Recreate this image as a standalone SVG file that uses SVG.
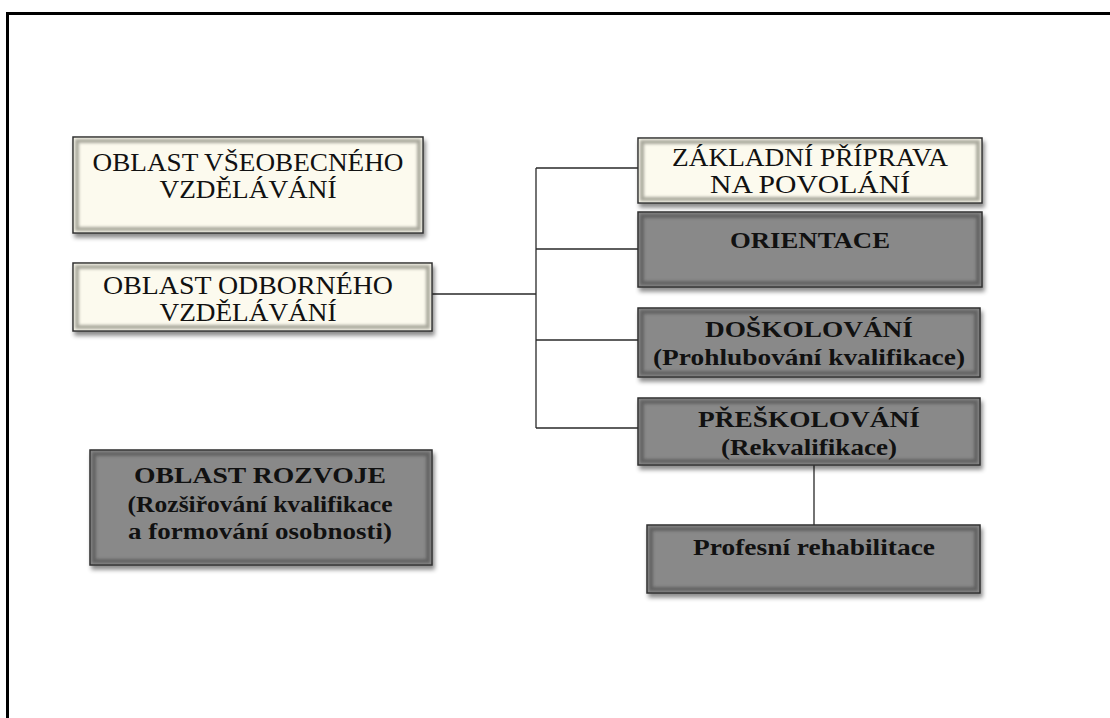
<svg xmlns="http://www.w3.org/2000/svg" width="1110" height="718" viewBox="0 0 1110 718">
<defs>
<filter id="sh" x="-10%" y="-20%" width="125%" height="150%">
<feDropShadow dx="2" dy="4" stdDeviation="2.2" flood-color="#000" flood-opacity="0.45"/>
</filter>
<filter id="bl" x="-5%" y="-10%" width="110%" height="120%">
<feGaussianBlur stdDeviation="1.6"/>
</filter>
<style>
.cream{fill:#fcfaee;stroke:#2e2e2e;stroke-width:1.5}
.gray{fill:#898989;stroke:#2e2e2e;stroke-width:1.5}
.rimc{fill:none;stroke:#a9a89c;stroke-width:4}
.rimg{fill:none;stroke:#626262;stroke-width:4}
.reg{font-family:"Liberation Serif","Times New Roman",serif;font-size:25px;fill:#111}
.bold{font-family:"Liberation Serif","Times New Roman",serif;font-size:23px;font-weight:bold;fill:#111}
.ln{stroke:#2a2a2a;stroke-width:1.3;fill:none}
</style>
</defs>
<rect x="0" y="0" width="1110" height="718" fill="#fff"/>
<rect x="7.5" y="13.5" width="1120" height="720" fill="none" stroke="#000" stroke-width="3"/>

<g id="connectors">
<path class="ln" d="M432 294 H536 M536 168 V428 M536 168 H638 M536 249 H638 M536 340 H638 M536 428 H638 M814 465 V525"/>
</g>

<g id="n-vseobecne">
<rect class="cream" x="73" y="137" width="350" height="96" filter="url(#sh)"/>
<rect class="rimc" x="77" y="141" width="342" height="88" filter="url(#bl)"/>
<text class="reg" text-anchor="middle"><tspan x="248" y="171" textLength="311" lengthAdjust="spacingAndGlyphs">OBLAST VŠEOBECNÉHO</tspan><tspan x="248" y="198" textLength="177" lengthAdjust="spacingAndGlyphs">VZDĚLÁVÁNÍ</tspan></text>
</g>

<g id="n-odborne">
<rect class="cream" x="73" y="263" width="359" height="68" filter="url(#sh)"/>
<rect class="rimc" x="77" y="267" width="351" height="60" filter="url(#bl)"/>
<text class="reg" text-anchor="middle"><tspan x="248" y="294" textLength="290" lengthAdjust="spacingAndGlyphs">OBLAST ODBORNÉHO</tspan><tspan x="248" y="321" textLength="177" lengthAdjust="spacingAndGlyphs">VZDĚLÁVÁNÍ</tspan></text>
</g>

<g id="n-rozvoj">
<rect class="gray" x="90" y="450" width="342" height="115" filter="url(#sh)"/>
<rect class="rimg" x="94" y="454" width="334" height="107" filter="url(#bl)"/>
<text class="bold" text-anchor="middle"><tspan x="260" y="483" textLength="252" lengthAdjust="spacingAndGlyphs">OBLAST ROZVOJE</tspan><tspan x="260" y="512" textLength="265" lengthAdjust="spacingAndGlyphs">(Rozšiřování kvalifikace</tspan><tspan x="260" y="539" textLength="264" lengthAdjust="spacingAndGlyphs">a formování osobnosti)</tspan></text>
</g>

<g id="n-zakladni">
<rect class="cream" x="638" y="138" width="344" height="65" filter="url(#sh)"/>
<rect class="rimc" x="642" y="142" width="336" height="57" filter="url(#bl)"/>
<text class="reg" text-anchor="middle"><tspan x="810" y="166" textLength="276" lengthAdjust="spacingAndGlyphs">ZÁKLADNÍ PŘÍPRAVA</tspan><tspan x="810" y="193" textLength="200" lengthAdjust="spacingAndGlyphs">NA POVOLÁNÍ</tspan></text>
</g>

<g id="n-orientace">
<rect class="gray" x="638" y="212" width="344" height="75" filter="url(#sh)"/>
<rect class="rimg" x="642" y="216" width="336" height="67" filter="url(#bl)"/>
<text class="bold" text-anchor="middle"><tspan x="810" y="248" textLength="160" lengthAdjust="spacingAndGlyphs">ORIENTACE</tspan></text>
</g>

<g id="n-doskolovani">
<rect class="gray" x="638" y="308" width="342" height="69" filter="url(#sh)"/>
<rect class="rimg" x="642" y="312" width="334" height="61" filter="url(#bl)"/>
<text class="bold" text-anchor="middle"><tspan x="809" y="337" textLength="208" lengthAdjust="spacingAndGlyphs">DOŠKOLOVÁNÍ</tspan><tspan x="809" y="365" textLength="312" lengthAdjust="spacingAndGlyphs">(Prohlubování kvalifikace)</tspan></text>
</g>

<g id="n-preskolovani">
<rect class="gray" x="638" y="398" width="342" height="67" filter="url(#sh)"/>
<rect class="rimg" x="642" y="402" width="334" height="59" filter="url(#bl)"/>
<text class="bold" text-anchor="middle"><tspan x="809" y="427" textLength="222" lengthAdjust="spacingAndGlyphs">PŘEŠKOLOVÁNÍ</tspan><tspan x="809" y="455" textLength="176" lengthAdjust="spacingAndGlyphs">(Rekvalifikace)</tspan></text>
</g>

<g id="n-rehabilitace">
<rect class="gray" x="647" y="525" width="333" height="68" filter="url(#sh)"/>
<rect class="rimg" x="651" y="529" width="325" height="60" filter="url(#bl)"/>
<text class="bold" text-anchor="middle"><tspan x="814" y="555" textLength="242" lengthAdjust="spacingAndGlyphs">Profesní rehabilitace</tspan></text>
</g>
</svg>
